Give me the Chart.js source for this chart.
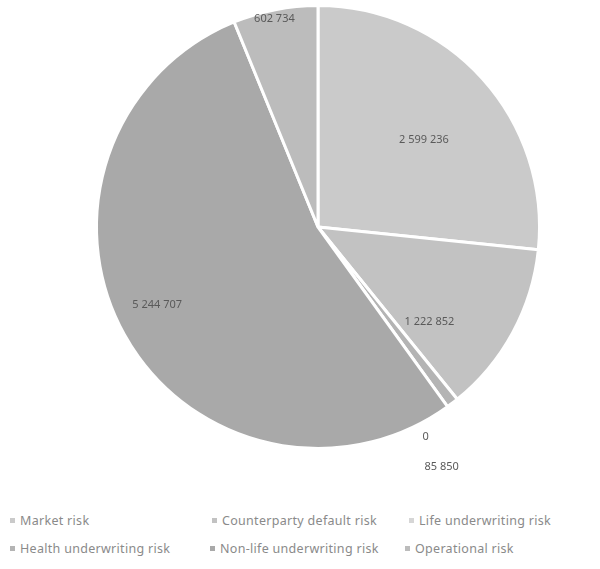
<!DOCTYPE html>
<html>
<head>
<meta charset="utf-8">
<script src="https://cdn.jsdelivr.net/npm/chart.js@4/dist/chart.umd.min.js"></script>
<style>
  html,body{margin:0;padding:0;background:#fff;}
  #wrap{position:relative;width:600px;height:569px;}
  #chartBox{position:absolute;left:0;top:0;width:600px;height:490px;}
  #legend{position:absolute;left:0;top:512px;width:600px;font-family:"Noto Sans",sans-serif;font-size:12.5px;letter-spacing:0.3px;color:#8a8a8a;}
  .item{position:absolute;white-space:nowrap;}
  .item i{display:inline-block;width:5px;height:5px;margin-right:5px;vertical-align:middle;position:relative;top:-1px;}
</style>
</head>
<body>
<div id="wrap">
  <div id="chartBox"><canvas id="pie"></canvas></div>
  <div id="legend"></div>
</div>
<script>
// --- Date ---
const categorii = ['Market risk','Counterparty default risk','Life underwriting risk',
                   'Health underwriting risk','Non-life underwriting risk','Operational risk'];
const valori = [2599236, 1222852, 0, 85850, 5244707, 602734];
const etichete = ['2 599 236','1 222 852','0','85 850','5 244 707','602 734'];

// --- Stil ---
const culori = ['#cacaca','#c2c2c2','#d6d6d6','#b4b4b4','#a9a9a9','#bcbcbc'];
const pozLegenda = [[10,0],[212,0],[409,0],[10,28],[210,28],[405,28]];
// distanta eticheta fata de centru (fractie din raza) si deplasari fine
const pozEticheta = [
  {r:0.62, dx:4, dy:5},
  {r:0.66, dx:-17, dy:25},
  {r:1.06, dx:-40, dy:27},
  {r:1.24, dx:-43, dy:22},
  {r:0.82, dx:-2, dy:-10},
  {r:0.95, dx:-3, dy:-2}
];

// --- Plugin etichete ---
const pluginEtichete = {
  id:'etichete',
  afterDatasetsDraw(chart){
    const ctx = chart.ctx;
    const meta = chart.getDatasetMeta(0);
    ctx.save();
    ctx.font = '11px "Noto Sans", sans-serif';
    ctx.fillStyle = '#5a5a5a';
    ctx.textAlign = 'center';
    ctx.textBaseline = 'middle';
    meta.data.forEach((arc,i)=>{
      const p = arc.getProps(['x','y','startAngle','endAngle','outerRadius'], true);
      const a = (p.startAngle + p.endAngle)/2;
      const r = p.outerRadius * pozEticheta[i].r;
      const x = p.x + Math.cos(a)*r + pozEticheta[i].dx;
      const y = p.y + Math.sin(a)*r + pozEticheta[i].dy;
      ctx.fillText(etichete[i], x, y);
    });
    ctx.restore();
  }
};

// --- Legenda HTML ---
const leg = document.getElementById('legend');
categorii.forEach((c,i)=>{
  const d = document.createElement('div');
  d.className = 'item';
  d.style.left = pozLegenda[i][0]+'px';
  d.style.top = pozLegenda[i][1]+'px';
  d.innerHTML = `<i style="background:${culori[i]}"></i>${c}`;
  leg.appendChild(d);
});

// --- Grafic ---
new Chart(document.getElementById('pie').getContext('2d'), {
  type:'pie',
  data:{
    labels: categorii,
    datasets:[{
      data: valori,
      backgroundColor: culori,
      borderColor:'#ffffff',
      borderWidth:3
    }]
  },
  options:{
    responsive:true,
    maintainAspectRatio:false,
    animation:false,
    layout:{padding:{top:4, bottom:40, left:36, right:0}},
    plugins:{legend:{display:false}, tooltip:{enabled:false}}
  },
  plugins:[pluginEtichete]
});
</script>
</body>
</html>
